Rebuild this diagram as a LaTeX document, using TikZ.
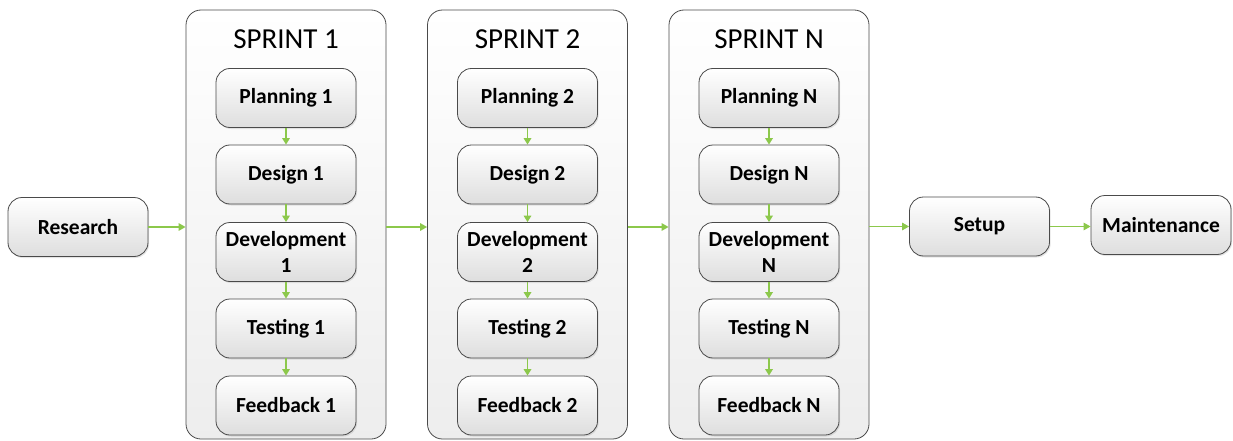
\documentclass[tikz,border=0pt]{standalone}
\usepackage{fontspec}
\setmainfont{Carlito}
\usetikzlibrary{arrows.meta,shadows}
\definecolor{flowgreen}{HTML}{8CC84B}
\definecolor{edgegray}{HTML}{4A4A4A}
\begin{document}
\begin{tikzpicture}[x=1pt,y=-1pt,
  sprintbox/.style={draw=edgegray,line width=0.8pt,rounded corners=15pt,
    minimum width=200pt,minimum height=429pt,
    top color=white,bottom color=black!7},
  stagebox/.style={draw=edgegray,line width=0.8pt,rounded corners=14pt,
    minimum width=140pt,minimum height=59pt,align=center,
    top color=white,bottom color=black!13,
    font=\bfseries\fontsize{21.5}{26}\selectfont,
    drop shadow={shadow xshift=1.2pt,shadow yshift=-1.5pt,opacity=0.2}},
  titletext/.style={font=\fontsize{29}{30}\selectfont},
  flow/.style={draw=flowgreen,line width=1.4pt,
    -{Triangle[length=7pt,width=7.5pt]}},
  stepflow/.style={draw=flowgreen,line width=1.6pt,
    -{Triangle[length=6.5pt,width=7.5pt]}}]
  \useasboundingbox (0,0) rectangle (1233,441);
  \fill[white] (0,0) rectangle (1233,441);

  % outer stages
  \node[stagebox] (research) at (78,227) {Research};
  \node[stagebox] (setup) at (979.5,226.5) {Setup};
  \node[stagebox] (maint) at (1161,225) {Maintenance};

  % one column per sprint
  \foreach \k/\cx/\lab in {1/286/1,2/527.5/2,3/769/N}{
    \node[sprintbox] (s\k) at (\cx,224.5) {};
    \node[titletext] (title\k) at (\cx,39) {SPRINT \lab};
    \node[stagebox] (plan\k) at (\cx,98) {Planning \lab};
    \node[stagebox] (design\k) at (\cx,174.5) {Design \lab};
    \node[stagebox] (dev\k) at (\cx,252) {Development\\\lab};
    \node[stagebox] (test\k) at (\cx,328.5) {Testing \lab};
    \node[stagebox] (feed\k) at (\cx,405.5) {Feedback \lab};
    \draw[stepflow] (plan\k) -- (design\k);
    \draw[stepflow] (design\k) -- (dev\k);
    \draw[stepflow] (dev\k) -- (test\k);
    \draw[stepflow] (test\k) -- (feed\k);
  }

  % horizontal flow
  \draw[flow] (research.east) -- (research.east -| s1.west);
  \draw[flow] (s1.east |- research.east) -- (s2.west |- research.east);
  \draw[flow] (s2.east |- research.east) -- (s3.west |- research.east);
  \draw[flow] (s3.east |- setup.west) -- (setup.west);
  \draw[flow] (setup.east) -- (setup.east -| maint.west);
\end{tikzpicture}
\end{document}
